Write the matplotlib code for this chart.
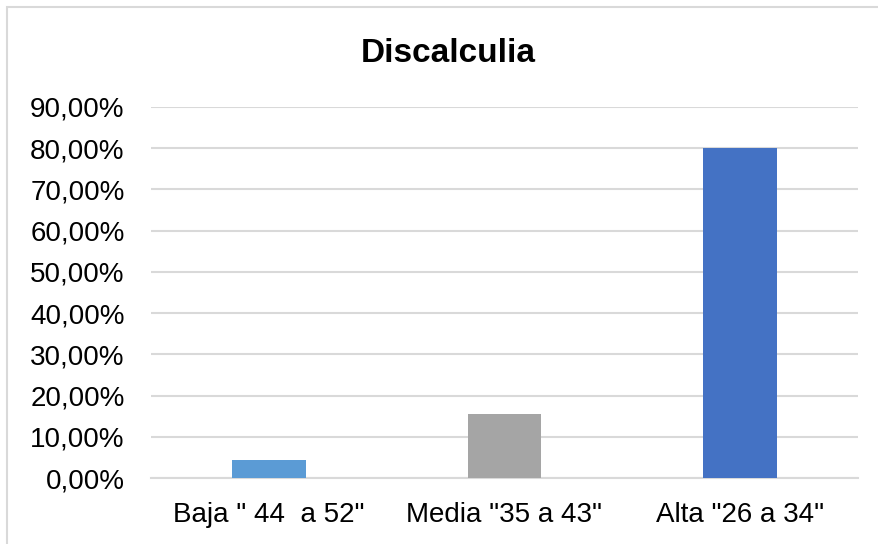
import matplotlib
matplotlib.use('Agg')
import matplotlib.pyplot as plt
import matplotlib.ticker as ticker
from matplotlib.patches import Rectangle

categories = ['Baja " 44  a 52"', 'Media "35 a 43"', 'Alta "26 a 34"']
values = [2 / 45, 7 / 45, 36 / 45]
colors = ['#5B9BD5', '#A5A5A5', '#4472C4']
yticks = [0.0, 0.1, 0.2, 0.3, 0.4, 0.5, 0.6, 0.7, 0.8, 0.9]

plt.rcParams['font.family'] = ['Liberation Sans', 'DejaVu Sans']

W, H = 879, 544
fig = plt.figure(figsize=(W / 100, H / 100), dpi=100)
ax = fig.add_axes([151 / W, (H - 478) / H, (858 - 151) / W, (478 - 107) / H])

x = range(len(categories))
ax.bar(x, values, width=0.314, color=colors, zorder=3)

ax.set_xlim(-0.5, len(categories) - 0.5)
ax.set_ylim(0, 0.9)
ax.set_yticks(yticks)
ax.yaxis.set_major_formatter(ticker.FuncFormatter(
    lambda v, _: ('%.2f%%' % (v * 100)).replace('.', ',')))
ax.set_xticks(list(x))
ax.set_xticklabels(categories)

ax.grid(axis='y', color='#D9D9D9', linewidth=1.5, zorder=0)
for side in ['top', 'right', 'left']:
    ax.spines[side].set_visible(False)
ax.spines['bottom'].set_color('#D9D9D9')
ax.spines['bottom'].set_linewidth(1.5)
ax.tick_params(axis='both', length=0, labelsize=20, colors='black')
ax.tick_params(axis='y', pad=19)
ax.tick_params(axis='x', pad=17)

fig.text(448 / W, (H - 62) / H, 'Discalculia', ha='center', va='baseline',
         fontsize=24, fontweight='bold')

# chart frame
fig.patches.append(Rectangle((7 / W, -0.05), 1.0, (H - 7) / H + 0.05,
                             transform=fig.transFigure, fill=False,
                             edgecolor='#D9D9D9', linewidth=1.5))

fig.savefig('out.png', dpi=100)
